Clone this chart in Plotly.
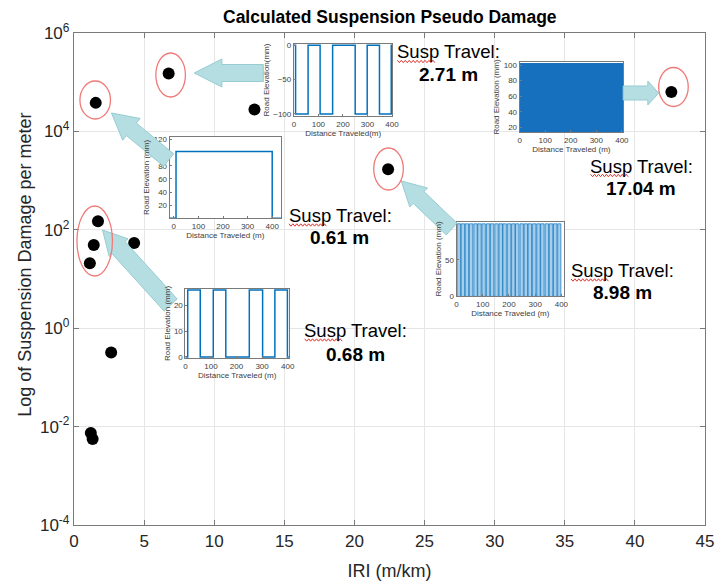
import math
import plotly.graph_objects as go

# ---- main scatter: roughness index vs. suspension pseudo damage ----
iri = [6.75, 1.55, 12.87, 42.6, 22.4, 1.71, 1.41, 1.13, 4.29, 2.65, 1.20, 1.33]
damage = [1.5e5, 3.8e4, 2.8e4, 6.3e4, 1.7e3, 150, 49, 21, 54, 0.32, 0.0074, 0.0056]
x_ticks = [0, 5, 10, 15, 20, 25, 30, 35, 40, 45]
y_tick_exponents = [-4, -2, 0, 2, 4, 6]

# ---- road profiles (distance m, elevation mm) ----
dist_a = [0, 7, 7, 58, 58, 107, 107, 158, 158, 250, 250, 299, 299, 349, 349, 397, 397, 402]
elev_a = [0, 0, -100, -100, 0, 0, -100, -100, 0, 0, -100, -100, 0, 0, -100, -100, 0, 0]

dist_b = [-20, 9, 9, 400, 400, 440]
elev_b = [0, 0, 102, 102, 0, 0]

dist_c = [0, 9, 9, 58, 58, 109, 109, 158, 158, 250, 250, 302, 302, 350, 350, 399, 399, 405]
elev_c = [0, 0, 26, 26, 0, 0, 26, 26, 0, 0, 26, 26, 0, 0, 26, 26, 0, 0]

dist_d = [0, 405]
elev_d = [102, 102]

# dense bump train: rise / fall positions (m), bump height (mm)
rise_e = [2, 18, 33, 49, 66, 81, 97, 114, 129, 146, 162, 177, 194, 210, 225, 242,
          258, 273, 290, 306, 321, 338, 354, 370, 386]
fall_e = [15, 31, 46, 62, 79, 94, 110, 127, 142, 159, 175, 190, 207, 223, 238, 255,
          271, 286, 303, 319, 334, 351, 367, 383, 398]
height_e = 100

susp_travel = ["2.71 m", "0.61 m", "0.68 m", "17.04 m", "8.98 m"]

# ---- layout geometry (pixels of the 724x587 canvas) ----
W, H = 724, 587
L, R, T, B = 74, 714, 33, 525


def px(x):
    return (x - L) / (R - L)


def py(y):
    return (B - y) / (B - T)


FONT = "Liberation Sans, Arial, Helvetica, sans-serif"
BLUE = "#0072BD"
AX = "#7a7a7a"
GRID = "#e6e6e6"

fig = go.Figure()

fig.add_trace(go.Scatter(
    x=iri, y=damage, mode="markers",
    marker=dict(color="black", size=12, line=dict(width=0)),
    xaxis="x", yaxis="y", showlegend=False, hoverinfo="x+y",
))

# elevation traces of the five inset profiles
fig.add_trace(go.Scatter(x=dist_a, y=elev_a, mode="lines",
                         line=dict(color=BLUE, width=1.5), xaxis="x2", yaxis="y2",
                         showlegend=False))
fig.add_trace(go.Scatter(x=dist_b, y=elev_b, mode="lines",
                         line=dict(color=BLUE, width=1.5), xaxis="x3", yaxis="y3",
                         showlegend=False))
fig.add_trace(go.Scatter(x=dist_c, y=elev_c, mode="lines",
                         line=dict(color=BLUE, width=1.5), xaxis="x4", yaxis="y4",
                         showlegend=False))
fig.add_trace(go.Scatter(x=dist_d, y=elev_d, mode="lines", fill="tozeroy",
                         fillcolor="#1670bd", line=dict(color="#1670bd", width=1),
                         xaxis="x5", yaxis="y5", showlegend=False))

xe, ye = [0], [0]
for r0, f0 in zip(rise_e, fall_e):
    xe += [r0, r0, f0, f0]
    ye += [0, height_e, height_e, 0]
xe.append(402)
ye.append(0)
fig.add_trace(go.Scatter(x=xe, y=ye, mode="lines", fill="tozeroy",
                         fillcolor="rgba(80,155,215,0.5)",
                         line=dict(color="rgba(0,114,189,0.85)", width=0.8),
                         xaxis="x6", yaxis="y6", showlegend=False))

# ---- main axes ----
layout = dict(
    width=W, height=H,
    margin=dict(l=L, r=W - R, t=T, b=H - B),
    paper_bgcolor="white", plot_bgcolor="white",
    font=dict(family=FONT, color="#262626"),
    showlegend=False,
    xaxis=dict(
        domain=[0, 1], range=[0, 45], tickvals=x_ticks,
        showgrid=True, gridcolor=GRID, gridwidth=1, zeroline=False,
        showline=True, linecolor=AX, linewidth=1.3, mirror="ticks",
        ticks="inside", ticklen=5, tickcolor=AX,
        tickfont=dict(size=17, color="#262626"),
        title=dict(text="IRI (m/km)", font=dict(size=18, color="#262626"), standoff=14),
    ),
    yaxis=dict(
        domain=[0, 1], type="log", range=[-4, 6],
        tickvals=[10.0 ** e for e in y_tick_exponents],
        ticktext=[f"10<sup>{e}</sup>" for e in y_tick_exponents],
        showgrid=True, gridcolor=GRID, gridwidth=1, zeroline=False,
        showline=True, linecolor=AX, linewidth=1.3, mirror="ticks",
        ticks="inside", ticklen=5, tickcolor=AX,
        tickfont=dict(size=17, color="#262626"),
    ),
)

# ---- inset axes ----
TICKF = dict(size=8, color="#404040")
TITLEF = dict(size=8, color="#404040")


def box_domain(x0, x1, y0, y1):
    return [px(x0), px(x1)], [py(y1), py(y0)]


insets = [
    # n, box (x0, x1, ytop, ybottom), x range, y range, y ticks, y title, x title
    (2, (297, 397, 44, 116), [0, 402], [-103, 2], [-100, -50, 0],
     "Road Elevation(mm)", "Distance Traveled(m)"),
    (3, (171, 284, 137, 218), [-17, 436], [0.5, 124], [20, 40, 60, 80, 100, 120],
     "Road Elevation (mm)", "Distance Traveled (m)"),
    (4, (187, 292, 289, 358), [0, 405], [-0.4, 26.4], [0, 10, 20],
     "Road Elevation (mm)", "Distance Traveled (m)"),
    (5, (526, 631, 62, 132), [0, 405], [14, 104], [20, 40, 60, 80, 100],
     "Road Elevation (mm)", "Distance Traveled (m)"),
    (6, (462, 571, 222, 296), [0, 410], [0, 102.5], [0, 50],
     "Road Elevation (mm)", "Distance Traveled (m)"),
]

shapes = []
for n, bx, xr, yr, yt, ytitle, xtitle in insets:
    xd, yd = box_domain(*bx)
    layout[f"xaxis{n}"] = dict(
        domain=xd, anchor=f"y{n}", range=xr, tickvals=[0, 100, 200, 300, 400],
        showgrid=False, zeroline=False, showline=True, linecolor=AX, linewidth=1,
        mirror=True, ticks="inside", ticklen=2, tickcolor=AX, tickfont=TICKF,
        title=dict(text=xtitle, font=TITLEF, standoff=2),
    )
    layout[f"yaxis{n}"] = dict(
        domain=yd, anchor=f"x{n}", range=yr, tickvals=yt,
        showgrid=False, zeroline=False, showline=True, linecolor=AX, linewidth=1,
        mirror=True, ticks="inside", ticklen=2, tickcolor=AX, tickfont=TICKF,
        title=dict(text=ytitle, font=TITLEF, standoff=2),
    )
    shapes.append(dict(type="rect", xref=f"x{n} domain", yref=f"y{n} domain",
                       x0=0, x1=1, y0=0, y1=1, layer="below",
                       fillcolor="white", line=dict(width=0)))

# ---- callout arrows ----
ARROW_FILL = "#b5dee2"
ARROW_LINE = "#96ccd2"


def arrow_path(tail, tip, body, head, head_len):
    tx, ty = tail
    hx, hy = tip
    d = math.hypot(hx - tx, hy - ty)
    ux, uy = (hx - tx) / d, (hy - ty) / d
    nx, ny = -uy, ux
    kx, ky = hx - ux * head_len, hy - uy * head_len
    pts = [
        (tx + nx * body, ty + ny * body),
        (kx + nx * body, ky + ny * body),
        (kx + nx * head, ky + ny * head),
        (hx, hy),
        (kx - nx * head, ky - ny * head),
        (kx - nx * body, ky - ny * body),
        (tx - nx * body, ty - ny * body),
    ]
    return "M " + " L ".join(f"{px(a):.5f},{py(b):.5f}" for a, b in pts) + " Z"


arrows = [
    ((266, 73), (196, 73), 8.5, 14, 28),
    ((170, 160), (112, 113), 8, 14, 26),
    ((172, 305), (103, 230), 9, 13, 24),
    ((457, 229), (406, 181), 8, 13, 24),
    ((631, 93), (667, 93), 7, 12, 11),
]
for tail, tip, body, head, hl in arrows:
    shapes.append(dict(type="path", xref="paper", yref="paper",
                       path=arrow_path(tail, tip, body, head, hl),
                       fillcolor=ARROW_FILL, line=dict(color=ARROW_LINE, width=1),
                       layer="above"))

# ---- highlight ellipses ----
ellipses = [(172, 75, 15, 22), (95.5, 100, 15.5, 19), (95, 241, 18, 35),
            (682, 87, 15, 19.5), (393, 169, 15, 21)]
for cx, cy, rx, ry in ellipses:
    shapes.append(dict(type="circle", xref="paper", yref="paper",
                       x0=px(cx - rx), x1=px(cx + rx), y0=py(cy + ry), y1=py(cy - ry),
                       line=dict(color="#f07a78", width=1.3), layer="above"))

# ---- labels ----
label_pos = [(454, 52), (344, 215.5), (360, 330.5), (650, 166), (630, 270.5)]
value_pos = [(454, 74), (343, 237), (360, 354), (649, 188.5), (630, 292.5)]
annotations = []
for (lx, ly), (vx, vy), val in zip(label_pos, value_pos, susp_travel):
    annotations.append(dict(text="Susp Travel:", x=px(lx), y=py(ly), xref="paper", yref="paper",
                            showarrow=False, xanchor="center", yanchor="middle",
                            font=dict(size=18.5, color="black", family=FONT)))
    annotations.append(dict(text=f"<b>{val}</b>", x=px(vx), y=py(vy), xref="paper", yref="paper",
                            showarrow=False, xanchor="center", yanchor="middle",
                            font=dict(size=19, color="black", family=FONT)))
    # spell-check squiggle under "Susp"
    x0 = lx - 52
    yb = ly + 9.5
    pts = [(x0 + 2 * k, yb + (1.2 if k % 2 else -1.2)) for k in range(20)]
    path = "M " + " L ".join(f"{px(a):.5f},{py(b):.5f}" for a, b in pts)
    shapes.append(dict(type="path", xref="paper", yref="paper", path=path,
                       line=dict(color="#e0302a", width=1), layer="above"))

annotations.append(dict(text="<b>Calculated Suspension Pseudo Damage</b>",
                        x=px(394), y=py(17), xref="paper", yref="paper", showarrow=False,
                        xanchor="center", yanchor="middle",
                        font=dict(size=17.5, color="black", family=FONT)))
annotations.append(dict(text="Log of Suspension Damage per meter",
                        x=px(24), y=py(265), xref="paper", yref="paper", showarrow=False,
                        xanchor="center", yanchor="middle", textangle=-90,
                        font=dict(size=18, color="#262626", family=FONT)))

layout["shapes"] = shapes
layout["annotations"] = annotations
fig.update_layout(**layout)

fig.write_html("out.html")
